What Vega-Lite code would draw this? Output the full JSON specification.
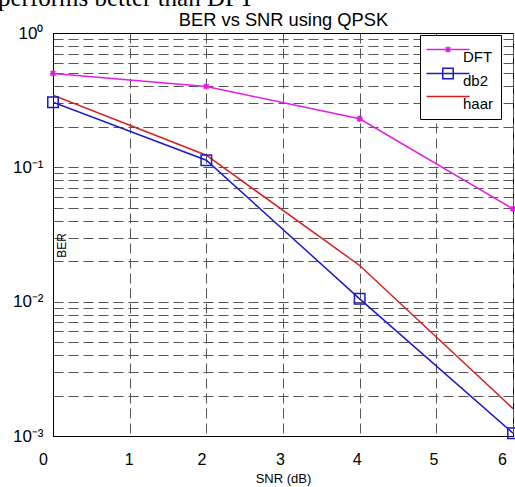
{
  "$schema": "https://vega.github.io/schema/vega-lite/v6.json",
  "width": 460,
  "height": 403,
  "autosize": {"type": "none"},
  "padding": {"left": 53, "top": 33, "right": 2, "bottom": 51},
  "background": "white",
  "config": {
    "font": "Liberation Sans",
    "view": {"stroke": "#000000", "strokeWidth": 1},
    "axis": {
      "domainColor": "#000000",
      "gridColor": "#555555",
      "gridDash": [10, 5],
      "gridWidth": 1,
      "gridOpacity": 1,
      "labelColor": "#000000",
      "titleColor": "#000000",
      "titleFontWeight": "normal",
      "ticks": false
    }
  },
  "title": {
    "text": "performs better than DFT",
    "font": "Liberation Serif",
    "fontSize": 25,
    "fontWeight": "normal",
    "color": "#000000",
    "anchor": "start",
    "frame": "group",
    "baseline": "alphabetic",
    "dx": -55,
    "dy": 23,
    "offset": 2
  },
  "data": {
    "values": [
      {"snr": 0, "ber": 0.50, "series": "DFT"},
      {"snr": 2, "ber": 0.40, "series": "DFT"},
      {"snr": 4, "ber": 0.23, "series": "DFT"},
      {"snr": 6, "ber": 0.049, "series": "DFT"},
      {"snr": 0, "ber": 0.305, "series": "db2"},
      {"snr": 2, "ber": 0.113, "series": "db2"},
      {"snr": 4, "ber": 0.0105, "series": "db2"},
      {"snr": 6, "ber": 0.00105, "series": "db2"},
      {"snr": 0, "ber": 0.344, "series": "haar"},
      {"snr": 2, "ber": 0.123, "series": "haar"},
      {"snr": 4, "ber": 0.0186, "series": "haar"},
      {"snr": 6, "ber": 0.0016, "series": "haar"}
    ]
  },
  "resolve": {"axis": {"x": "independent"}},
  "layer": [
    {
      "mark": {"type": "line", "strokeWidth": 1.5, "clip": true},
      "encoding": {
        "x": {
          "field": "snr",
          "type": "quantitative",
          "scale": {"domain": [0, 6], "nice": false, "zero": false},
          "axis": {
            "orient": "bottom",
            "values": [0, 1, 2, 3, 4, 5, 6],
            "labelFontSize": 16,
            "labelPadding": 15,
            "labelFlush": false,
            "labelOffset": {"expr": "datum.value == 0 ? -10 : datum.value == 6 ? -11 : datum.value == 1 ? -1 : datum.value == 2 ? -5 : -3"},
            "title": "SNR (dB)",
            "titleFontSize": 13,
            "titlePadding": 5,
            "grid": true
          }
        },
        "y": {
          "field": "ber",
          "type": "quantitative",
          "scale": {"type": "log", "domain": [0.001, 1], "nice": false},
          "axis": {
            "values": [0.001, 0.002, 0.003, 0.004, 0.005, 0.006, 0.007, 0.008, 0.009, 0.01, 0.02, 0.03, 0.04, 0.05, 0.06, 0.07, 0.08, 0.09, 0.1, 0.2, 0.3, 0.4, 0.5, 0.6, 0.7, 0.8, 0.9, 1],
            "labelExpr": "datum.value == 1 ? '10⁰' : datum.value == 0.1 ? '10⁻¹' : datum.value == 0.01 ? '10⁻²' : datum.value == 0.001 ? '10⁻³' : ''",
            "labelOverlap": false,
            "labelFlush": false,
            "labelFontSize": 17,
            "labelPadding": 10,
            "title": "BER",
            "titleFontSize": 12,
            "titleX": 8,
            "titleY": 212,
            "titleAngle": -90,
            "titleAlign": "center",
            "titleBaseline": "middle",
            "grid": true
          }
        },
        "color": {
          "field": "series",
          "type": "nominal",
          "scale": {"domain": ["DFT", "db2", "haar"], "range": ["#e020e0", "#1a1acc", "#d42020"]},
          "legend": {
            "title": null,
            "orient": "none",
            "legendX": 367,
            "legendY": 2,
            "fillColor": "#ffffff",
            "strokeColor": "#000000",
            "padding": 7,
            "cornerRadius": 0,
            "symbolSize": 100,
            "symbolOffset": 13.5,
            "symbolStrokeWidth": 1.5,
            "labelFontSize": 15,
            "labelColor": "#000000",
            "labelOffset": 7.5,
            "rowPadding": 0,
            "encode": {
              "symbols": {
                "update": {
                  "shape": {"signal": "datum.value === 'DFT' ? 'M-4.3,0H4.3M-0.6,0H0.6M0,-0.6V0.6M-0.45,-0.45L0.45,0.45M-0.45,0.45L0.45,-0.45' : datum.value === 'db2' ? 'M-4.3,0H4.3M-1.05,-1.05H1.05V1.05H-1.05Z' : 'M-4.3,0H4.3'"},
                  "fill": {"value": "transparent"},
                  "strokeWidth": {"value": 1.5}
                }
              },
              "labels": {
                "update": {"dy": {"value": 7}}
              }
            }
          }
        }
      }
    },
    {
      "transform": [{"filter": "datum.series != 'haar'"}],
      "mark": {"type": "point", "filled": false, "strokeWidth": 1.5, "size": 110, "opacity": 1, "clip": false},
      "encoding": {
        "x": {
          "field": "snr",
          "type": "quantitative",
          "axis": {
            "orient": "top",
            "labels": false,
            "grid": false,
            "title": "BER vs SNR using QPSK",
            "titleFontSize": 18.3,
            "titleFont": "Liberation Sans",
            "titleX": 230,
            "titleY": -8,
            "titleAlign": "center",
            "titleBaseline": "alphabetic"
          }
        },
        "y": {"field": "ber", "type": "quantitative"},
        "color": {"field": "series", "type": "nominal", "legend": null},
        "shape": {
          "field": "series",
          "type": "nominal",
          "scale": {"domain": ["DFT", "db2"], "range": ["M-0.6,0H0.6M0,-0.6V0.6M-0.45,-0.45L0.45,0.45M-0.45,0.45L0.45,-0.45", "M-1,-1H1V1H-1Z"]},
          "legend": null
        }
      }
    }
  ]
}
